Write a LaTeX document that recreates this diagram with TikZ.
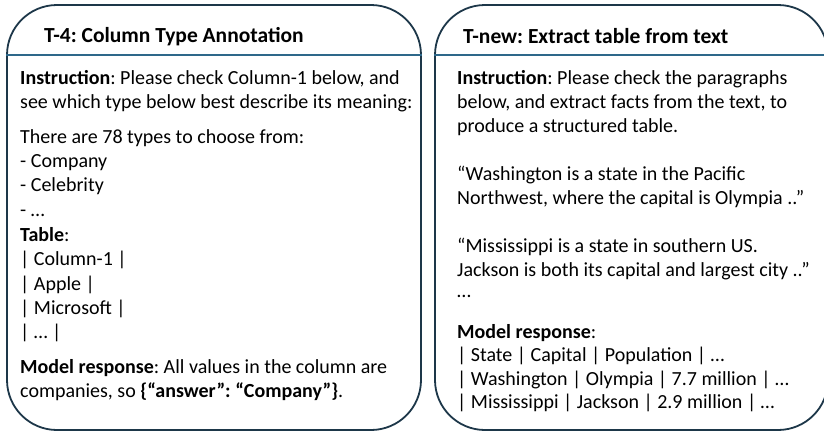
\documentclass[tikz,border=0pt]{standalone}
\usepackage{fontspec}
\setmainfont{Carlito}
\frenchspacing
\definecolor{frame}{RGB}{29,55,73}
\definecolor{rule}{RGB}{46,104,138}
\begin{document}
\begin{tikzpicture}[x=1pt,y=-1pt,
  panel/.style={draw=frame, line width=1.8pt, rounded corners=50pt, inner sep=0pt},
  hline/.style={draw=rule, line width=1.5pt},
  title/.style={anchor=base west, inner sep=0pt, font=\fontsize{21.5}{25}\selectfont\bfseries},
  body/.style={anchor=base west, inner sep=0pt, font=\fontsize{20}{24}\selectfont}]
\useasboundingbox (0,0) rectangle (824,434);
\clip (0,0) rectangle (824,434);

% two panels
\node[panel, minimum width=414pt, minimum height=425pt] (boxL) at (214,217.5) {};
\node[panel, minimum width=393pt, minimum height=425pt] (boxR) at (631.5,217.5) {};

% header rules
\coordinate (hL) at (0,55);
\draw[hline] (boxL.west |- hL) -- (boxL.east |- hL);
\draw[hline] (boxR.west |- hL) -- (boxR.east |- hL);

% titles
\node[title] (tL) at (44,42) {T-4: Column Type Annotation};
\node[title] (tR) at (463,43) {T-new: Extract table from text};

% left panel text
\node[body] (l1) at (20,84.5) {\textbf{Instruction}: Please check Column-1 below, and};
\node[body] (l2) at (20,108.5) {see which type below best describe its meaning:};
\node[body] (l3) at (20,143.5) {There are 78 types to choose from:};
\node[body] (l4) at (20,167.5) {- Company};
\node[body] (l5) at (20,191.5) {- Celebrity};
\node[body] (l6) at (20,216) {- \dots};
\node[body] (l7) at (20,241) {\textbf{Table}:};
\node[body] (l8) at (20,265) {| Column-1 |};
\node[body] (l9) at (20,290) {| Apple |};
\node[body] (l10) at (20,314.5) {| Microsoft |};
\node[body] (l11) at (20,338.5) {| \dots\ |};
\node[body] (l12) at (20,373.5) {\textbf{Model response}: All values in the column are};
\node[body] (l13) at (20,397) {companies, so \textbf{\{“answer”: “Company”\}}.};

% right panel text
\node[body] (r1) at (457,84.5) {\textbf{Instruction}: Please check the paragraphs};
\node[body] (r2) at (457,108.5) {below, and extract facts from the text, to};
\node[body] (r3) at (457,132) {produce a structured table.};
\node[body] (r4) at (457,180) {“Washington is a state in the Pacific};
\node[body] (r5) at (457,204) {Northwest, where the capital is Olympia ..”};
\node[body] (r6) at (457,252) {“Mississippi is a state in southern US.};
\node[body] (r7) at (457,276.5) {Jackson is both its capital and largest city ..”};
\node[body] (r8) at (457,297) {\dots};
\node[body] (r9) at (457,338.5) {\textbf{Model response}:};
\node[body] (r10) at (457,361.5) {| State | Capital | Population | \dots};
\node[body] (r11) at (457,385) {| Washington | Olympia | 7.7 million | \dots};
\node[body] (r12) at (457,408.5) {| Mississippi | Jackson | 2.9 million | \dots};
\end{tikzpicture}
\end{document}
